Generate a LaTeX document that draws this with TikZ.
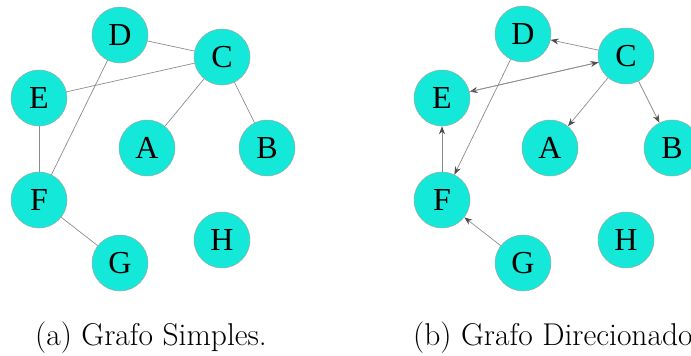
\documentclass[tikz,border=0pt]{standalone}
\usepackage{fontspec}
\newfontfamily\nodefont{Liberation Serif}
\usetikzlibrary{arrows.meta}
\definecolor{nodecyan}{RGB}{20,232,216}
\definecolor{edgegray}{RGB}{140,140,140}
\tikzset{
  vtx/.style={circle, fill=nodecyan, draw=gray!70, line width=0.5pt, minimum size=56pt, inner sep=0pt, font=\nodefont\fontsize{32}{32}\selectfont},
  edg/.style={draw=edgegray, line width=0.7pt},
  arr/.style={edg, -{Stealth[length=8pt,width=6pt,color=black!70]}},
  capt/.style={anchor=base west, inner sep=0pt, font=\fontsize{31.5}{36}\selectfont}
}
\begin{document}
\begin{tikzpicture}[x=1pt,y=-1pt]
\useasboundingbox (0,0) rectangle (691,356);
\begin{scope}
\clip (0,0) rectangle (691,356);
% left graph
\node[vtx] (lD) at (120,35) {D};
\node[vtx] (lC) at (222,57) {C};
\node[vtx] (lE) at (39,98) {E};
\node[vtx] (lA) at (147,148) {A};
\node[vtx] (lB) at (267,148) {B};
\node[vtx] (lF) at (39,200) {F};
\node[vtx] (lG) at (120,263) {G};
\node[vtx] (lH) at (222,240) {H};
% right graph
\node[vtx] (rD) at (523,34) {D};
\node[vtx] (rC) at (626,56) {C};
\node[vtx] (rE) at (442,98) {E};
\node[vtx] (rA) at (550,148) {A};
\node[vtx] (rB) at (672,148) {B};
\node[vtx] (rF) at (442,200) {F};
\node[vtx] (rG) at (523,263) {G};
\node[vtx] (rH) at (626,240) {H};
% left edges
\draw[edg] (lD) -- (lC);
\draw[edg] (lE) -- (lC);
\draw[edg] (lC) -- (lA);
\draw[edg] (lC) -- (lB);
\draw[edg] (lD) -- (lF);
\draw[edg] (lE) -- (lF);
\draw[edg] (lF) -- (lG);
% right edges
\draw[arr] (rC) -- (rD);
\draw[arr] (rC) -- (rE);
\draw[arr] (rE) -- (rC);
\draw[arr] (rC) -- (rA);
\draw[arr] (rC) -- (rB);
\draw[arr] (rD) -- (rF);
\draw[arr] (rF) -- (rE);
\draw[arr] (rG) -- (rF);
% captions
\node[capt] (ca) at (35,345) {(a) Grafo Simples.};
\node[capt] (cb) at (413,345) {(b) Grafo Direcionado.};
\end{scope}
\end{tikzpicture}
\end{document}
